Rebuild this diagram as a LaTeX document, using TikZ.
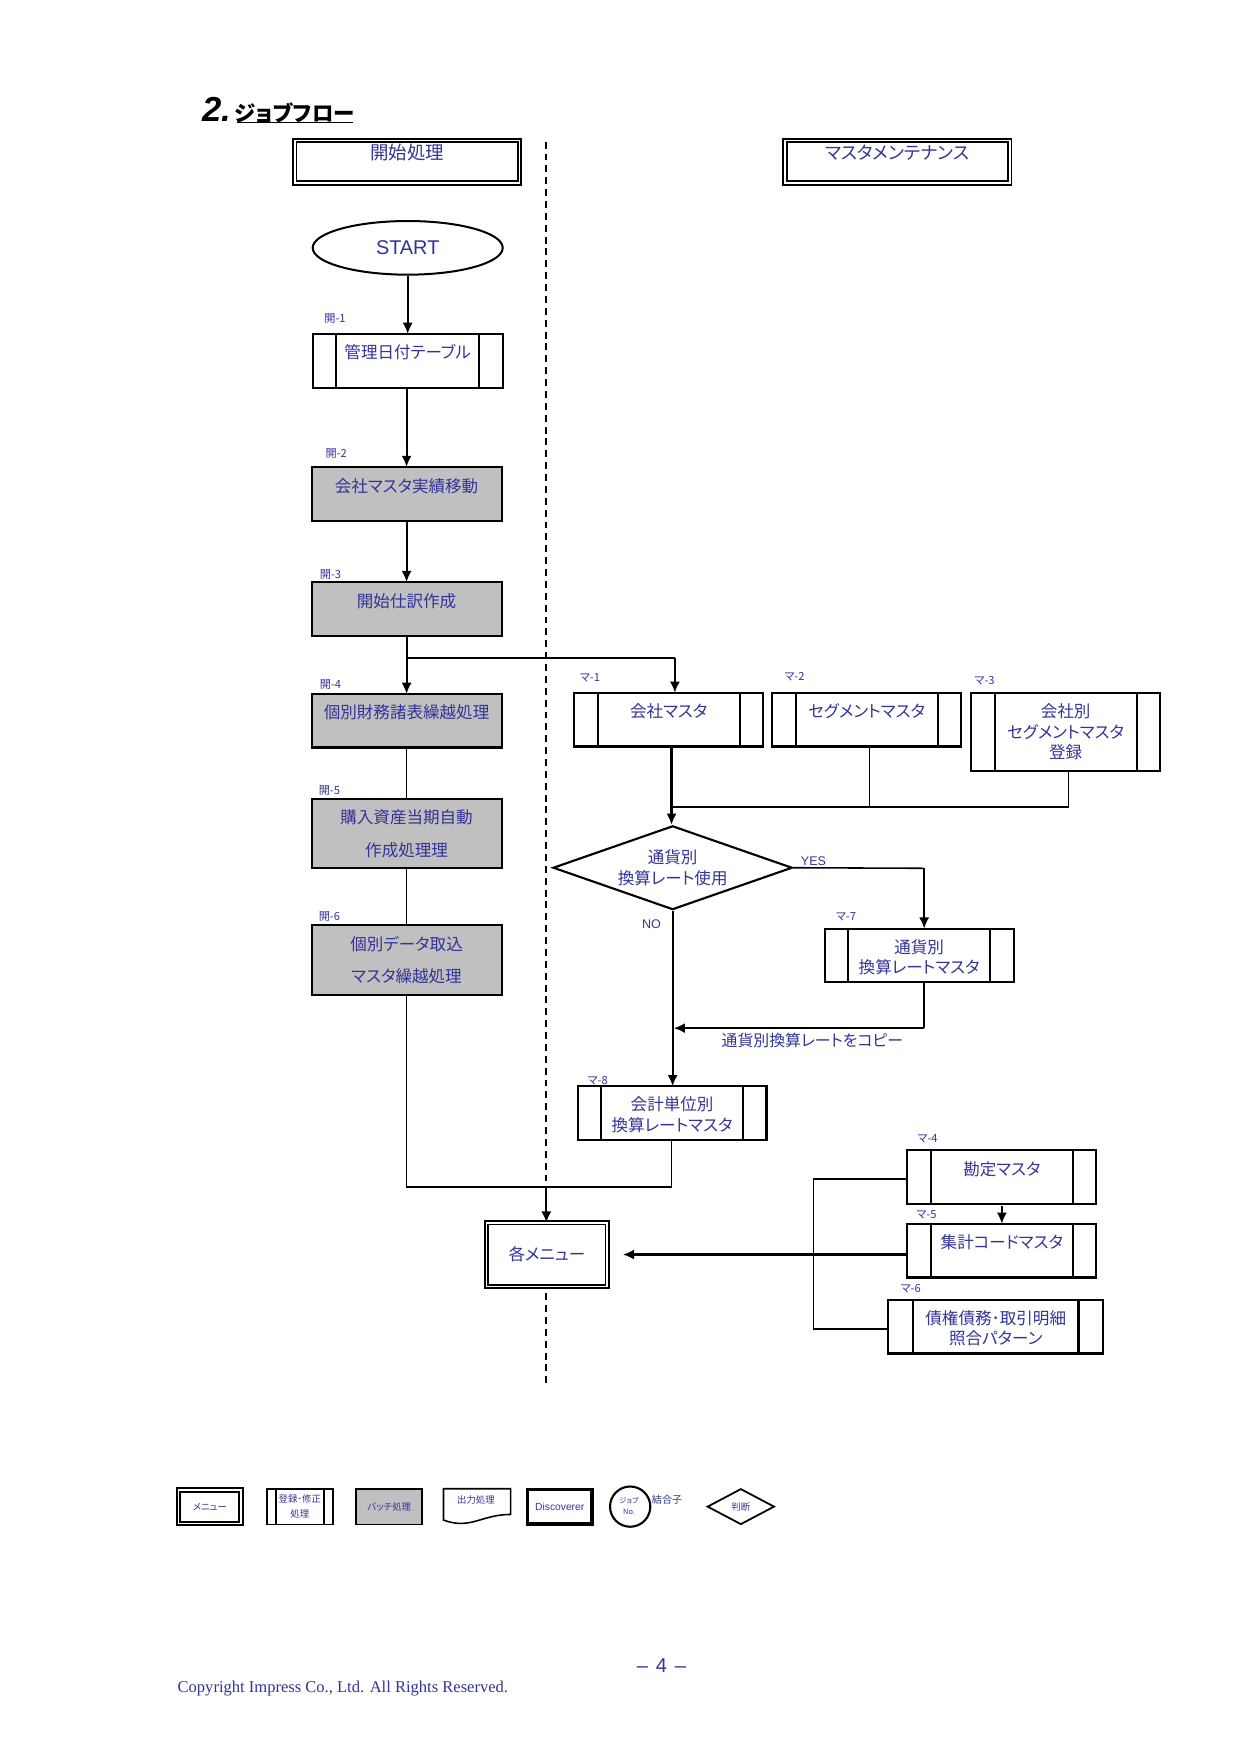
\documentclass[tikz,border=0pt]{standalone}
\usepackage{fontspec}
\setmainfont{Liberation Sans}
\newfontfamily\jp[RawFeature=+palt]{Noto Sans CJK JP}
\newfontfamily\serifcopy{Liberation Serif}
\usetikzlibrary{shapes.geometric,arrows.meta}
\definecolor{navytext}{HTML}{333399}
\definecolor{batchgray}{HTML}{C0C0C0}
\newcommand{\jpsize}{\fontsize{7.4}{9.2}\selectfont\jp}
\newcommand{\jpsmall}{\fontsize{5}{6}\selectfont\jp}
\newcommand{\jptiny}{\fontsize{4.2}{6.5}\selectfont\jp}
\tikzset{
	thickline/.style={draw=black, line width=0.95pt},
	thinline/.style={draw=black, line width=0.7pt},
	arrowline/.style={thickline, -{Latex[length=5pt,width=4.5pt]}},
	basebox/.style={shape=rectangle, thickline, text=navytext, font=\jpsize, inner sep=0pt, outer sep=0pt, align=center},
	uptext/.style={text height=7pt, text depth=8.6pt},
	lowtext/.style={text height=17pt, text depth=0.7pt},
	menubox/.style={basebox, fill=white, line width=0.8pt, double=white, double distance=0.8pt},
	batchbox/.style={basebox, fill=batchgray, minimum width=85pt},
	subbox/.style={basebox, path picture={
		\draw[thickline] ([xshift=#1]path picture bounding box.north west) -- ([xshift=#1]path picture bounding box.south west)
		([xshift=-#1]path picture bounding box.north east) -- ([xshift=-#1]path picture bounding box.south east);}},
	subbox/.default=10.5pt,
	jobno/.style={text=navytext, font=\jpsmall, inner sep=0pt},
	plaintext/.style={text=navytext, font=\jpsize, inner sep=0pt, align=center},
	legendtext/.style={font=\jptiny}
}
\begin{document}
\begin{tikzpicture}[x=0.5pt, y=-0.5pt]
	\useasboundingbox (-0.7,-0.7) rectangle (1109.3,1568.3);

	% heading
	\node[inner sep=0pt, font=\fontsize{15.5}{16}\selectfont\bfseries\itshape] (num) at (193,97) {2.};
	\node[inner sep=1pt, font=\fontsize{9.6}{10}\selectfont\jp\bfseries] (title) at (263,100) {ジョブフロー};
	\draw[thinline] (211,109) -- (315,109);

	% centre line
	\coordinate (d_top) at (488,126);
	\coordinate (d_bot) at (488,1237);
	\draw[line width=0.85pt, dash pattern=on 3.1pt off 2.21pt] (d_top) -- (d_bot);

	% left column
	\node[menubox, uptext, font=\fontsize{8.25}{9.2}\selectfont\jp, minimum width=100.5pt, minimum height=19pt] (h_k) at (363.5,144) {開始処理};
	\node[draw=black, line width=0.9pt, shape=ellipse, fill=white, text=navytext, inner sep=0pt, minimum width=85pt, minimum height=24pt, font=\fontsize{8.9}{10}\selectfont] (start) at (364,221) {START};

	\node[subbox, uptext, minimum width=85pt, minimum height=24pt] (k_1) at (364,322) {管理日付テーブル};
	\node[batchbox, uptext, minimum height=24pt] (k_2) at (363,441) {会社マスタ実績移動};
	\node[batchbox, uptext, minimum height=24pt] (k_3) at (363,544) {開始仕訳作成};
	\node[batchbox, uptext, minimum height=24pt] (k_4) at (363,644) {個別財務諸表繰越処理};
	\node[batchbox, minimum height=31pt] (k_5) at (363,745) {購入資産当期自動\\[5.3pt]作成処理理};
	\node[batchbox, minimum height=31pt] (k_6) at (363,858) {個別データ取込\\[5pt]マスタ繰越処理};

	\node[jobno] (n_k1) at (299,284) {開-1};
	\node[jobno] (n_k2) at (300,405) {開-2};
	\node[jobno] (n_k3) at (295,513) {開-3};
	\node[jobno] (n_k4) at (295,612) {開-4};
	\node[jobno] (n_k5) at (294,706) {開-5};
	\node[jobno] (n_k6) at (294,819) {開-6};

	% right column
	\node[menubox, uptext, font=\fontsize{8}{9.2}\selectfont\jp, minimum width=100.5pt, minimum height=19pt] (h_m) at (802,144) {マスタメンテナンス};
	\node[subbox, uptext, minimum width=84.5pt, minimum height=24pt] (m_1) at (597.5,643) {会社マスタ};
	\node[subbox, uptext, minimum width=84.5pt, minimum height=24pt] (m_2) at (774.5,643) {セグメントマスタ};
	\node[subbox, minimum width=84.5pt, minimum height=35pt] (m_3) at (952.5,654) {会社別\\セグメントマスタ\\登録};
	\node[shape=diamond, thickline, fill=white, text=navytext, font=\jpsize, inner sep=0pt, align=center, minimum width=107pt, minimum height=37.5pt, shape aspect=2.85] (dec) at (601,775.5) {通貨別\\換算レート使用};
	\node[subbox, lowtext, minimum width=84.5pt, minimum height=24pt] (m_7) at (821.5,854) {通貨別\\換算レートマスタ};
	\node[subbox, lowtext, minimum width=84.5pt, minimum height=24pt] (m_8) at (600.5,995) {会計単位別\\換算レートマスタ};
	\node[subbox, uptext, minimum width=84.5pt, minimum height=24pt] (m_4) at (895.5,1052) {勘定マスタ};
	\node[subbox, uptext, minimum width=84.5pt, minimum height=24pt] (m_5) at (895.5,1118) {集計コードマスタ};
	\node[subbox=11pt, lowtext, minimum width=96pt, minimum height=24pt] (m_6) at (890,1186) {債権債務･取引明細\\照合パターン};
	\node[menubox, minimum width=54pt, minimum height=28.5pt] (menu) at (488.5,1121.5) {各メニュー};

	\node[jobno] (n_m1) at (527,606) {マ-1};
	\node[jobno] (n_m2) at (710,605) {マ-2};
	\node[jobno] (n_m3) at (880,608) {マ-3};
	\node[jobno] (n_m4) at (829,1018) {マ-4};
	\node[jobno] (n_m5) at (828,1086) {マ-5};
	\node[jobno] (n_m6) at (814,1152) {マ-6};
	\node[jobno] (n_m7) at (756,819) {マ-7};
	\node[jobno] (n_m8) at (534,966) {マ-8};
	\node[jobno, font=\fontsize{5.6}{6}\selectfont] (yes) at (727,770) {YES};
	\node[jobno, font=\fontsize{5.6}{6}\selectfont] (no) at (582,826) {NO};
	\node[plaintext, font=\fontsize{7.1}{9}\selectfont\jp] (copy) at (726,930) {通貨別換算レートをコピー};

	% connectors
	\coordinate (c_split) at (363,588);
	\coordinate (c_join) at (600,721);
	\coordinate (c_m2) at (777,721);
	\coordinate (c_m3) at (955,721);
	\coordinate (c_yes) at (826,776);
	\coordinate (c_copy) at (826,919);
	\coordinate (c_no) at (602,919);
	\coordinate (c_left) at (363,1061);
	\coordinate (c_right) at (600,1061);
	\coordinate (c_mid) at (488,1061);

	\draw[arrowline] (start.south) -- (k_1.north);
	\draw[arrowline] (k_1.south -| k_2.north) -- (k_2.north);
	\draw[arrowline] (k_2.south) -- (k_3.north);
	\draw[arrowline] (k_3.south) -- (k_4.north);
	\draw[thinline] (k_4.south) -- (k_5.north);
	\draw[thinline] (k_5.south) -- (k_6.north);
	\draw[thinline] (k_6.south) -- (c_left) -- (c_right) -- (m_8.south -| c_right);
	\draw[arrowline] (c_mid) -- (menu.north -| c_mid);
	\draw[thinline] (c_split) -- ++(240,0) coordinate (c_up);
	\draw[arrowline] (c_up) -- (c_up |- m_1.north);

	\draw[arrowline] (m_1.south -| c_join) -- (dec.north -| c_join);
	\draw[thinline] (m_2.south -| c_m2) -- (c_m2);
	\draw[thinline] (m_3.south -| c_m3) -- (c_m3) -- (c_join);
	\draw[thinline] (dec.east) -- (c_yes);
	\draw[arrowline] (c_yes) -- (m_7.north -| c_yes);
	\draw[thinline] (m_7.south -| c_copy) -- (c_copy);
	\draw[arrowline] (c_copy) -- (c_no);
	\draw[arrowline] (dec.south) -- (m_8.north -| dec.south);

	\draw[arrowline] (m_4.south) ++(0,2) -- (m_5.north);
	\draw[arrowline] (m_5.west |- menu.east) -- ([xshift=7pt]menu.east);
	\draw[thinline] (m_4.west |- 727,1054) -- (727,1054) -- (727,1188) -- (m_6.west |- 727,1188);

	% legend
	\node[menubox, font=\jptiny, minimum width=28pt, minimum height=15pt] (l_menu) at (187,1347) {メニュー};
	\node[subbox=4pt, font=\jptiny, line width=0.8pt, minimum width=29.5pt, minimum height=16pt] (l_sub) at (267.5,1347) {登録･修正\\処理};
	\node[batchbox, font=\jptiny, minimum width=29.5pt, minimum height=16pt, line width=0.8pt] (l_batch) at (347.5,1347) {バッチ処理};
	\node[text=navytext, font=\jptiny, inner sep=0pt] (l_out) at (425,1341) {出力処理};
	\draw[thinline] (396,1331) -- (456,1331) -- (456,1354) .. controls (430,1354) and (420,1368) .. (396,1359) -- cycle;
	\node[shape=rectangle, draw=black, line width=1.6pt, text=navytext, inner sep=0pt, font=\fontsize{4.6}{6}\selectfont, minimum width=29pt, minimum height=15.5pt] (l_disc) at (500,1347) {Discoverer};
	\node[shape=circle, thickline, minimum size=18pt, inner sep=0pt] (l_job) at (563,1347) {};
	\node[text=navytext, font=\fontsize{3.3}{4}\selectfont\jp, inner sep=0pt] (l_jobtext) at (562,1342) {ジョブ};
	\node[text=navytext, font=\fontsize{3.3}{4}\selectfont\jp, inner sep=0pt] (l_jobno) at (562,1352) {No.};
	\node[text=navytext, font=\fontsize{4.5}{6}\selectfont\jp, inner sep=0pt] (l_join) at (596,1341) {結合子};
	\node[shape=diamond, draw=black, line width=0.8pt, text=navytext, font=\jptiny, inner sep=0pt, minimum width=30pt, minimum height=16pt, shape aspect=1.8] (l_dec) at (662,1347) {判断};

	% footer
	\node[text=navytext, font=\fontsize{9}{10}\selectfont, inner sep=0pt] (page) at (591,1489) {–\hspace{3.5pt}4\hspace{3.5pt}–};
	\node[text=navytext, font=\fontsize{7.4}{9}\selectfont\serifcopy, inner sep=0pt] (rights) at (306,1510) {Copyright Impress Co., Ltd. All Rights Reserved.};
\end{tikzpicture}
\end{document}
